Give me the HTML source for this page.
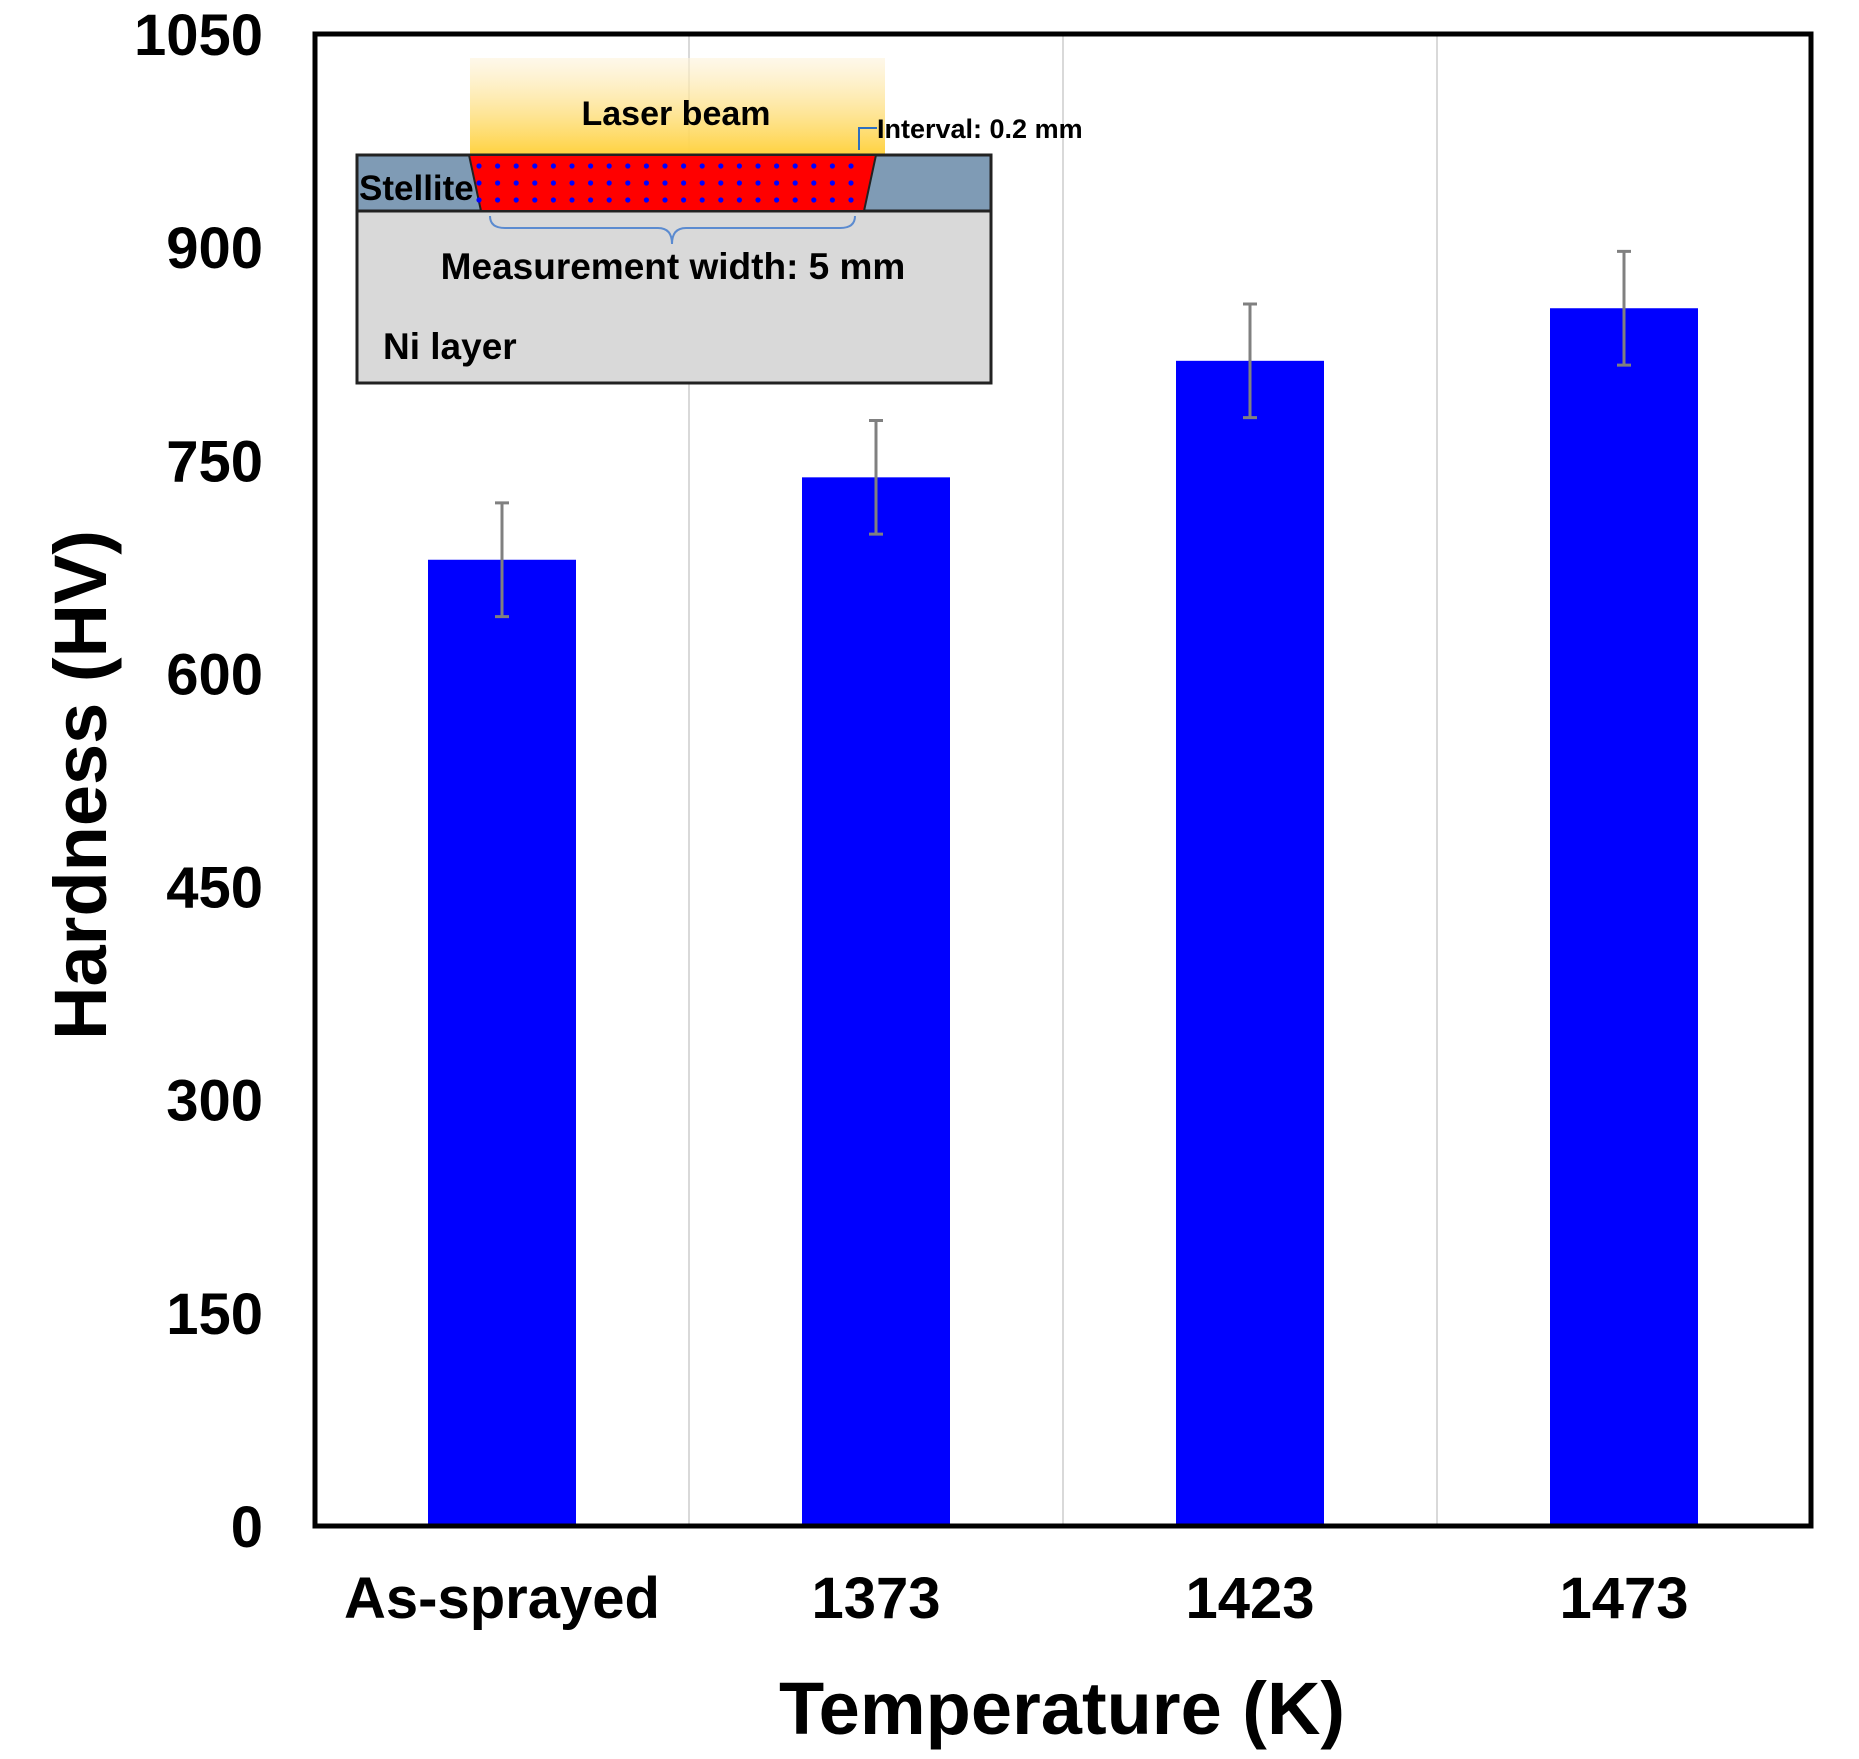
<!DOCTYPE html>
<html><head><meta charset="utf-8"><style>
html,body{margin:0;padding:0;background:#fff;}
svg{display:block;font-family:"Liberation Sans",Arial,sans-serif;}
</style></head><body>
<svg id="chart" width="1859" height="1759" viewBox="0 0 1859 1759" xmlns="http://www.w3.org/2000/svg">
<defs>
<linearGradient id="beam" x1="0" y1="0" x2="0" y2="1">
<stop offset="0" stop-color="#fdf3dc" stop-opacity="0.6"/>
<stop offset="1" stop-color="#ffd23f"/>
</linearGradient>
</defs>
<g id="grid"></g>
<g id="bars"></g>
<g id="errs"></g>
<g id="yticks"></g>
<g id="xticks"></g>
<rect x="315" y="34" width="1496" height="1492" fill="none" stroke="#000" stroke-width="5"/>
<text x="1062" y="1734" font-size="74" font-weight="bold" text-anchor="middle">Temperature (K)</text>
<text transform="translate(106,785) rotate(-90)" font-size="74" font-weight="bold" text-anchor="middle">Hardness (HV)</text>

<g transform="translate(-7,0)">
<rect x="477" y="58" width="415" height="97" fill="url(#beam)"/>
<text x="683" y="125" font-size="34" font-weight="bold" text-anchor="middle">Laser beam</text>
<rect x="364" y="211" width="634" height="172" fill="#d9d9d9" stroke="#222" stroke-width="3"/>
<rect x="364" y="155" width="634" height="56" fill="#7f9bb5" stroke="#222" stroke-width="3"/>
<polygon points="476,155 883,155 871,211 488,211" fill="#ff0000" stroke="#222" stroke-width="2"/>
<g id="dots"></g>
<path d="M497,216 Q497,228 512,228 L665,228 Q679,228 679,244 Q679,228 693,228 L847,228 Q862,228 862,216" fill="none" stroke="#5b8bd0" stroke-width="2"/>
<path d="M884,128 L866,128 L866,150" fill="none" stroke="#2e6fbf" stroke-width="2"/>
<text x="884" y="138" font-size="27" font-weight="bold">Interval: 0.2 mm</text>
<text x="366" y="200" font-size="35" font-weight="bold">Stellite</text>
<text x="680" y="279" font-size="37" font-weight="bold" text-anchor="middle">Measurement width: 5 mm</text>
<text x="390" y="359" font-size="37" font-weight="bold">Ni layer</text>
</g>
</svg>
<script>
const categories = ["As-sprayed", "1373", "1423", "1473"];
const hardness = [680, 738, 820, 857];
const errors = [40, 40, 40, 40];
const yTicks = [0, 150, 300, 450, 600, 750, 900, 1050];

const NS = "http://www.w3.org/2000/svg";
const X0 = 315, X1 = 1811, Y0 = 1526, Y1 = 34, YMAX = 1050;
const bandW = (X1 - X0) / categories.length;
function yScale(v){ return Y0 - (v / YMAX) * (Y0 - Y1); }
function xCenter(i){ return X0 + bandW * (i + 0.5); }
function mk(tag, attrs, parent){
  const e = document.createElementNS(NS, tag);
  for (const k in attrs) e.setAttribute(k, attrs[k]);
  parent.appendChild(e);
  return e;
}
const grid = document.getElementById("grid");
for (let i = 1; i < categories.length; i++) {
  const gx = X0 + bandW * i;
  const l = mk("line", {x1: gx, x2: gx, y1: Y1, y2: Y0, stroke: "#d9d9d9", "stroke-width": 2}, grid);
  
  
}
const bars = document.getElementById("bars");
const errs = document.getElementById("errs");
const bw = 148;
hardness.forEach((v, i) => {
  const cx = xCenter(i);
  const r = mk("rect", {x: cx - bw/2, y: yScale(v), width: bw, height: Y0 - yScale(v), fill: "#0000ff"}, bars);
  
  
  const hi = yScale(v + errors[i]), lo = yScale(v - errors[i]);
  const p = mk("path", {d: `M${cx},${hi} L${cx},${lo} M${cx-7},${hi} L${cx+7},${hi} M${cx-7},${lo} L${cx+7},${lo}`, stroke: "#808080", "stroke-width": 3, fill: "none"}, errs);
  
  
});
const yt = document.getElementById("yticks");
yTicks.forEach(t => {
  const tx = mk("text", {x: 263, y: yScale(t) + 21, "font-size": 58, "font-weight": "bold", "text-anchor": "end"}, yt);
  tx.textContent = t;
  
  
});
const xt = document.getElementById("xticks");
categories.forEach((c, i) => {
  const tx = mk("text", {x: xCenter(i), y: 1618, "font-size": 58, "font-weight": "bold", "text-anchor": "middle"}, xt);
  tx.textContent = c;
  
  
});
const dots = document.getElementById("dots");
for (let r = 0; r < 3; r++) {
  const y = 166 + r * 17;
  for (let c = 0; c < 21; c++) {
    const x = 486 + c * 18.6;
    const d = mk("circle", {cx: x, cy: y, r: 2.6, fill: "#0000ff"}, dots);
    
    
  }
}
</script>
</body></html>
